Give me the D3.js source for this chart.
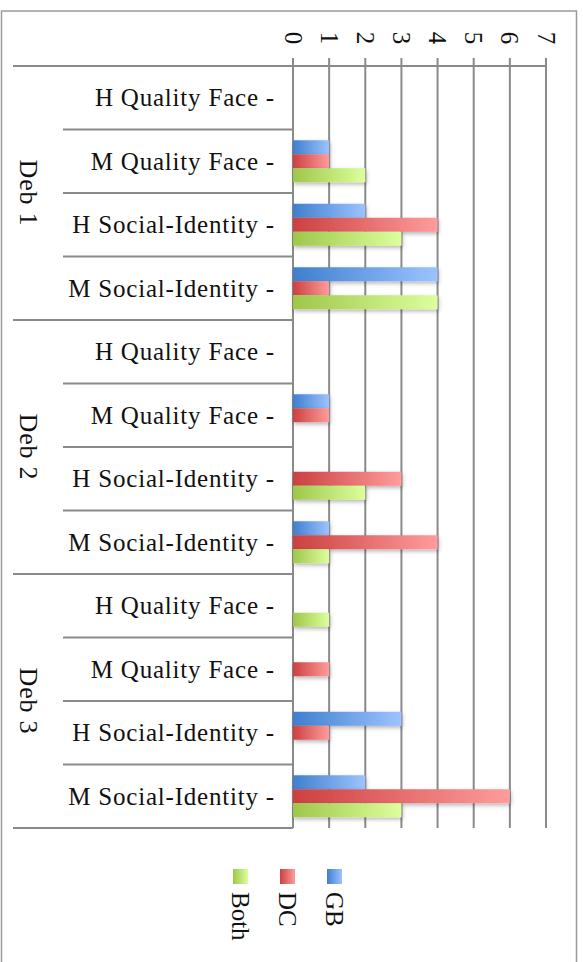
<!DOCTYPE html>
<html>
<head>
<meta charset="utf-8">
<script src="https://cdn.jsdelivr.net/npm/d3@7"></script>
<style>
  html, body { margin: 0; padding: 0; background: #fff; overflow: hidden; }
  svg { display: block; }
  text { font-family: "Liberation Serif", "DejaVu Serif", serif; fill: #111; }
</style>
</head>
<body>
<svg id="chart" width="583" height="962"></svg>
<script>
// ---- data ----
const groups = ["Deb 1", "Deb 2", "Deb 3"];
const subCategories = ["H Quality Face -", "M Quality Face -", "H Social-Identity -", "M Social-Identity -"];
const series = ["GB", "DC", "Both"];
const gbValues   = [0, 1, 2, 4,  0, 1, 0, 1,  0, 0, 3, 2];
const dcValues   = [0, 1, 4, 1,  0, 1, 3, 4,  0, 1, 1, 6];
const bothValues = [0, 2, 3, 4,  0, 0, 2, 1,  1, 0, 0, 3];
const tickValues = [0, 1, 2, 3, 4, 5, 6, 7];

// ---- build ----
const rows = [];
groups.forEach((g, gi) => subCategories.forEach((c, ci) => {
  const i = gi * subCategories.length + ci;
  rows.push({ key: g + "|" + c, group: g, label: c, GB: gbValues[i], DC: dcValues[i], Both: bothValues[i] });
}));

const svg = d3.select("#chart");
const defs = svg.append("defs");

const gradStops = {
  GB:   ["#3f7fcf", "#9cc3ff"],
  DC:   ["#cc4040", "#ff9c9c"],
  Both: ["#9ec74a", "#dcff9c"]
};
series.forEach(s => {
  const lg = defs.append("linearGradient").attr("id", "grad-" + s)
    .attr("x1", "0%").attr("x2", "100%").attr("y1", "0%").attr("y2", "0%");
  lg.append("stop").attr("offset", "0%").attr("stop-color", gradStops[s][0]);
  lg.append("stop").attr("offset", "100%").attr("stop-color", gradStops[s][1]);
});
const f = defs.append("filter").attr("id", "shadow").attr("x", "-10%").attr("y", "-50%").attr("width", "130%").attr("height", "250%");
f.append("feDropShadow").attr("dx", 1).attr("dy", 2).attr("stdDeviation", 2).attr("flood-color", "#000").attr("flood-opacity", 0.3);

// outer frame (bottom edge lies outside the view)
svg.append("path").attr("d", "M1.5,1000 V11 H576.5 V1000")
  .attr("fill", "none").attr("stroke", "#9a9a9a").attr("stroke-width", 1.5);

const x = d3.scaleLinear().domain([0, 7]).range([293, 546]);
const y = d3.scaleBand().domain(rows.map(r => r.key)).range([66, 828]).padding(0);
const ySub = d3.scaleBand().domain(series).range([0, y.bandwidth()]).paddingInner(0).paddingOuter(0.77);

// grid lines + ticks
const gridTop = 58, gridBottom = 828;
svg.append("g").selectAll("line").data(tickValues).join("line")
  .attr("x1", d => x(d)).attr("x2", d => x(d))
  .attr("y1", gridTop).attr("y2", gridBottom)
  .attr("stroke", "#8a8a8a").attr("stroke-width", 2);

// top axis line
svg.append("line").attr("x1", x(0)).attr("x2", x(7)).attr("y1", 66).attr("y2", 66)
  .attr("stroke", "#8a8a8a").attr("stroke-width", 2);

// tick labels (rotated)
svg.append("g").selectAll("text").data(tickValues).join("text")
  .attr("transform", d => `translate(${x(d)},38) rotate(90)`)
  .attr("text-anchor", "middle").attr("dominant-baseline", "central")
  .attr("font-size", 25).text(d => d);

// category separators
const boundaries = d3.range(rows.length + 1);
svg.append("g").selectAll("line").data(boundaries).join("line")
  .attr("x1", i => (i % subCategories.length === 0) ? 13 : 63)
  .attr("x2", x(0))
  .attr("y1", i => 66 + i * y.step()).attr("y2", i => 66 + i * y.step())
  .attr("stroke", "#8a8a8a").attr("stroke-width", 2);

// category labels
svg.append("g").selectAll("text").data(rows).join("text")
  .attr("x", 275).attr("y", d => y(d.key) + y.bandwidth() / 2)
  .attr("text-anchor", "end").attr("dominant-baseline", "central")
  .attr("letter-spacing", 0.8)
  .attr("font-size", 25).text(d => d.label);

// group labels
svg.append("g").selectAll("text").data(groups).join("text")
  .attr("transform", (g, gi) => {
    const cy = 66 + (gi + 0.5) * subCategories.length * y.step();
    return `translate(28,${cy}) rotate(90)`;
  })
  .attr("text-anchor", "middle").attr("dominant-baseline", "central")
  .attr("letter-spacing", 0.8)
  .attr("font-size", 26).text(d => d);

// bars
const barG = svg.append("g");
rows.forEach(r => {
  series.forEach(s => {
    if (r[s] <= 0) return;
    barG.append("rect")
      .attr("x", x(0)).attr("y", y(r.key) + ySub(s))
      .attr("width", x(r[s]) - x(0)).attr("height", ySub.bandwidth())
      .attr("fill", `url(#grad-${s})`).attr("filter", "url(#shadow)");
  });
});

// legend
const legendX = { GB: 334.5, DC: 287.5, Both: 240.5 };
const lg = svg.append("g");
series.forEach(s => {
  lg.append("rect").attr("x", legendX[s] - 7.5).attr("y", 869).attr("width", 15).attr("height", 15)
    .attr("fill", `url(#grad-${s})`);
  lg.append("text").attr("transform", `translate(${legendX[s]},892) rotate(90)`)
    .attr("text-anchor", "start").attr("dominant-baseline", "central")
    .attr("font-size", 25).text(s);
});
</script>
</body>
</html>
